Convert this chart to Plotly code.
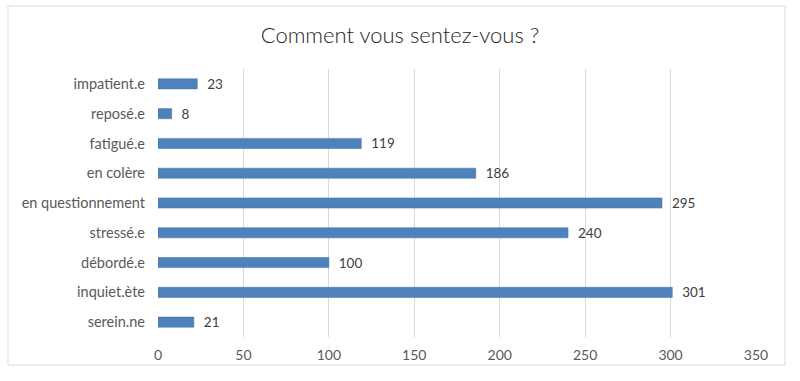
import plotly.graph_objects as go

categories = ["serein.ne", "inquiet.ète", "débordé.e", "stressé.e", "en questionnement",
              "en colère", "fatigué.e", "reposé.e", "impatient.e"]
values = [21, 301, 100, 240, 295, 186, 119, 8, 23]
x_ticks = [0, 50, 100, 150, 200, 250, 300, 350]

W, H = 800, 381
L, R, T, B = 158, 44, 69, 44
pw, ph = W - L - R, H - T - B

def px(x):
    return (x - L) / pw

def py(y):
    return (H - B - y) / ph

fig = go.Figure(go.Bar(
    y=categories, x=values, orientation="h",
    marker=dict(color="#4f81bd", line=dict(color="#41719c", width=0.5)),
    width=0.34,
    text=["  " + str(v) for v in values], textposition="outside",
    textfont=dict(size=13.5, color="#404040"),
    constraintext="none", textangle=0,
    cliponaxis=False,
))

fig.update_layout(
    width=W, height=H,
    margin=dict(l=L, r=R, t=T, b=B, autoexpand=False),
    paper_bgcolor="white", plot_bgcolor="white",
    font=dict(family="Lato, Open Sans, sans-serif", color="#404040", size=13),
    title=dict(text="Comment vous sentez-vous ?", x=0.5, xanchor="center",
               y=1 - 35 / H, yanchor="middle", xref="container",
               font=dict(size=22, color="#262626", weight=300), automargin=False),
    showlegend=False,
    xaxis=dict(range=[0, 350], tickvals=x_ticks, showgrid=True, gridcolor="#d9d9d9",
               gridwidth=1, zeroline=False, showline=False, ticks="",
               tickfont=dict(size=14, color="#595959"), ticklabelstandoff=8,
               automargin=False),
    yaxis=dict(showgrid=False, zeroline=False, showline=False, ticks="",
               tickfont=dict(size=14.5, color="#595959"), ticklabelstandoff=12,
               automargin=False),
    shapes=[dict(type="rect", xref="paper", yref="paper",
                 x0=px(8), x1=px(785), y0=py(365), y1=py(6),
                 line=dict(color="#d9d9d9", width=1), layer="below")],
)

fig.write_html("out.html", post_script="document.body.style.margin='0';",
               config={"displayModeBar": False})
